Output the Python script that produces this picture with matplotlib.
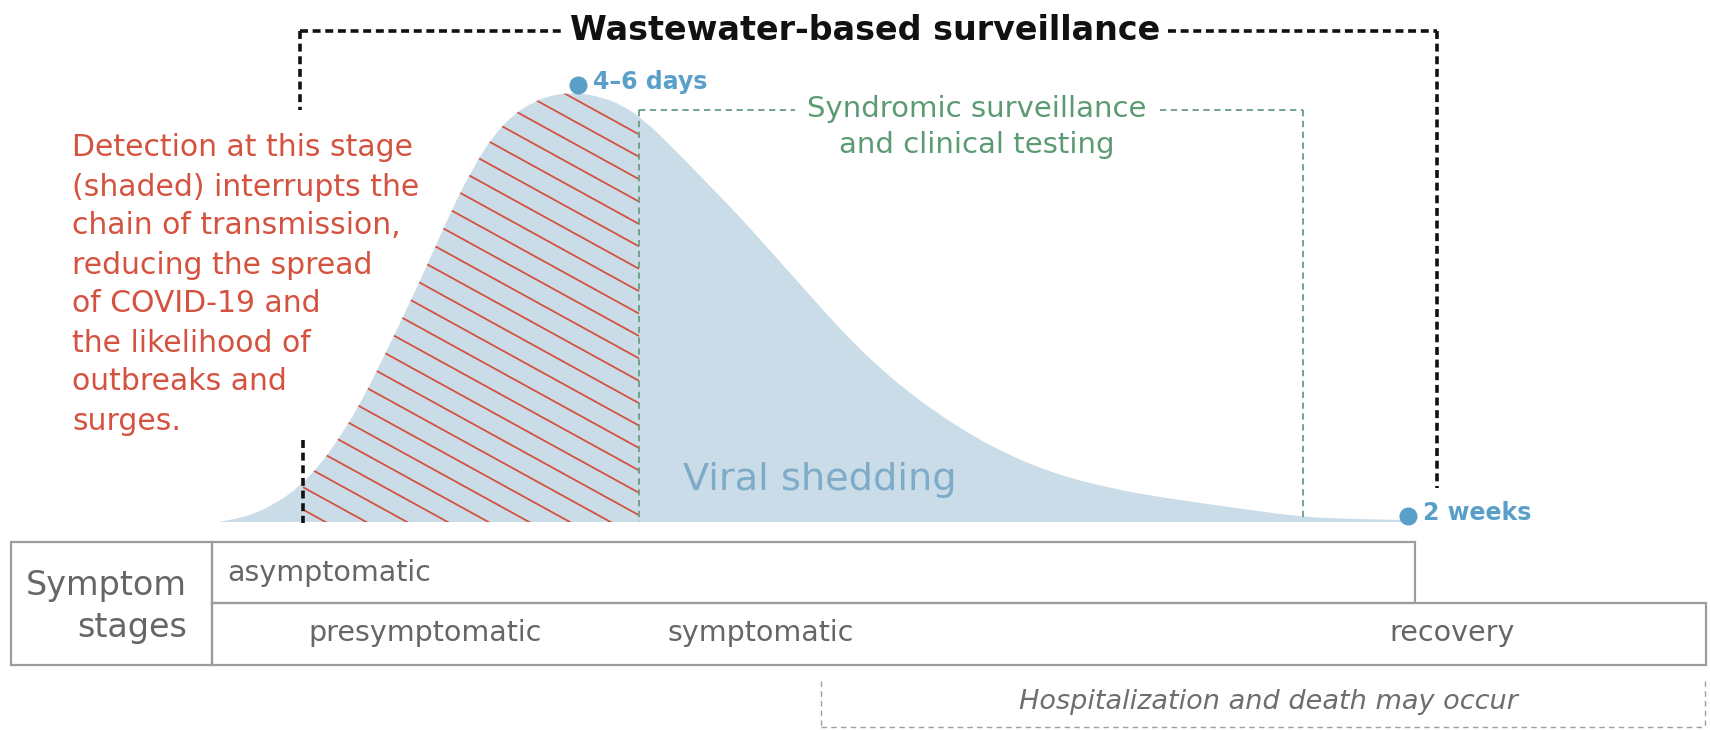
import numpy as np
import matplotlib.pyplot as plt
from matplotlib.patches import Rectangle, PathPatch
from matplotlib.path import Path
from matplotlib.collections import LineCollection

W, H = 1710, 730
BASE = 522  # baseline of the shedding curve (px from top)

# viral shedding curve: horizontal position and height above baseline
shed_x = [218, 245, 277, 300, 320, 340, 363, 388, 413, 433, 453, 473, 493, 513,
          533, 553, 570, 585, 600, 620, 643, 673, 707, 740, 773, 807, 840, 873,
          907, 940, 973, 1007, 1040, 1073, 1107, 1140, 1200, 1250, 1303, 1350, 1408]
shed_level = [0, 4, 19, 36, 57, 85, 123, 174, 226, 270, 315, 354, 386, 407,
              420, 427, 429, 428, 425, 418, 403, 374, 339, 305, 268, 230, 193, 160,
              131, 107, 86, 68, 54, 43, 35, 28, 19, 12, 5, 3, 2]

milestone_x = [578, 1408]
milestone_labels = ["4\u20136 days", "2 weeks"]

note_lines = ["Detection at this stage", "(shaded) interrupts the",
              "chain of transmission,", "reducing the spread",
              "of COVID-19 and", "the likelihood of",
              "outbreaks and", "surges."]

stage_top = "asymptomatic"
stage_bottom = ["presymptomatic", "symptomatic", "recovery"]
stage_bottom_x = [425, 761, 1452]

BLUE = "#5a9fca"
FILL = "#c9dce8"
RED = "#d4523f"
GREEN = "#5b9a72"
GRAY = "#9c9c9c"
TXT = "#666666"

fig = plt.figure(figsize=(W / 100, H / 100), dpi=100)
ax = fig.add_axes([0, 0, 1, 1])
ax.set_xlim(0, W)
ax.set_ylim(H, 0)
ax.axis("off")

x = np.array(shed_x, float)
y = BASE - np.array(shed_level, float)

# smooth outline: quadratic beziers through the midpoints of the read points
verts = [(x[0], BASE), (x[0], y[0])]
codes = [Path.MOVETO, Path.LINETO]
for i in range(1, len(x) - 1):
    verts += [(x[i], y[i]), ((x[i] + x[i + 1]) / 2, (y[i] + y[i + 1]) / 2)]
    codes += [Path.CURVE3, Path.CURVE3]
verts += [(x[-1], y[-1]), (x[-1], BASE), (x[0], BASE)]
codes += [Path.LINETO, Path.LINETO, Path.CLOSEPOLY]
shape = PathPatch(Path(verts, codes), fc=FILL, ec="none", zorder=1)
ax.add_patch(shape)

# red diagonal hatching between the two dashed lines, clipped to the curve
hx0, hx1 = 303, 639
slope, step = 0.55, 22.4
segs = []
for c in np.arange(BASE + 10, 60 - slope * (hx1 - hx0), -step):
    segs.append([(hx0, c), (hx1, c + slope * (hx1 - hx0))])
lc = LineCollection(segs, colors=RED, linewidths=1.3, zorder=2)
ax.add_collection(lc)
lc.set_clip_path(shape)

# milestones
lift = [9, 4]
for mx, lab, dy in zip(milestone_x, milestone_labels, lift):
    my = BASE - np.interp(mx, x, shed_level) - dy
    ax.plot(mx, my, "o", ms=13, color=BLUE, mec="none", zorder=5)
    ax.text(mx + 15, my - 3, lab, color=BLUE, fontsize=17,
            fontweight="bold", va="center", ha="left", zorder=5)

# wastewater bracket (black)
blk = dict(color="#111111", lw=2.6, ls=(0, (2.2, 1.3)), zorder=4, solid_capstyle="butt")
ax.plot([300, 562], [31, 31], **blk)
ax.plot([1168, 1437], [31, 31], **blk)
ax.plot([300, 300], [31, 110], **blk)
ax.plot([1437, 1437], [31, 488], **blk)
ax.plot([303, 303], [440, 523], **blk)
ax.text(865, 30, "Wastewater-based surveillance", fontsize=24, fontweight="bold",
        color="#111111", ha="center", va="center")

# syndromic bracket (green)
grn = dict(color="#6a9c80", lw=1.3, ls=(0, (3.5, 2.5)), zorder=4)
ax.plot([639, 639], [110, BASE], **grn)
ax.plot([639, 795], [110, 110], **grn)
ax.plot([1160, 1303], [110, 110], **grn)
ax.plot([1303, 1303], [110, 518], **grn)
ax.text(977, 109, "Syndromic surveillance", fontsize=21, color=GREEN,
        ha="center", va="center")
ax.text(977, 145, "and clinical testing", fontsize=21, color=GREEN,
        ha="center", va="center")

ax.text(820, 490, "Viral shedding", fontsize=27.5, color="#7eabc8",
        ha="center", va="baseline", zorder=3)

# red note
for i, line in enumerate(note_lines):
    ax.text(72, 148 + i * 39.0, line, fontsize=21.5, color=RED, ha="left", va="center")

# symptom stage table
box = dict(fill=False, ec=GRAY, lw=1.6, zorder=3)
ax.add_patch(Rectangle((11, 542), 201, 123, **box))
ax.add_patch(Rectangle((212, 542), 1203, 61, **box))
ax.add_patch(Rectangle((212, 603), 1494, 62, **box))
ax.text(187, 586, "Symptom", fontsize=24, color=TXT, ha="right", va="center")
ax.text(187, 627, "stages", fontsize=24, color=TXT, ha="right", va="center")
ax.text(227, 573, stage_top, fontsize=20.5, color=TXT, ha="left", va="center")
for sx, lab in zip(stage_bottom_x, stage_bottom):
    ax.text(sx, 633, lab, fontsize=20.5, color=TXT, ha="center", va="center")

# hospitalization bracket
hos = dict(color="#a0a0a0", lw=1.0, ls=(0, (4, 3)), zorder=3)
ax.plot([821, 821], [681, 727], **hos)
ax.plot([821, 1705], [727, 727], **hos)
ax.plot([1705, 1705], [681, 727], **hos)
ax.text(1268, 702, "Hospitalization and death may occur", fontsize=19.5,
        color="#6e6e6e", style="italic", ha="center", va="center")

fig.savefig("out.png", dpi=100, facecolor="white")
